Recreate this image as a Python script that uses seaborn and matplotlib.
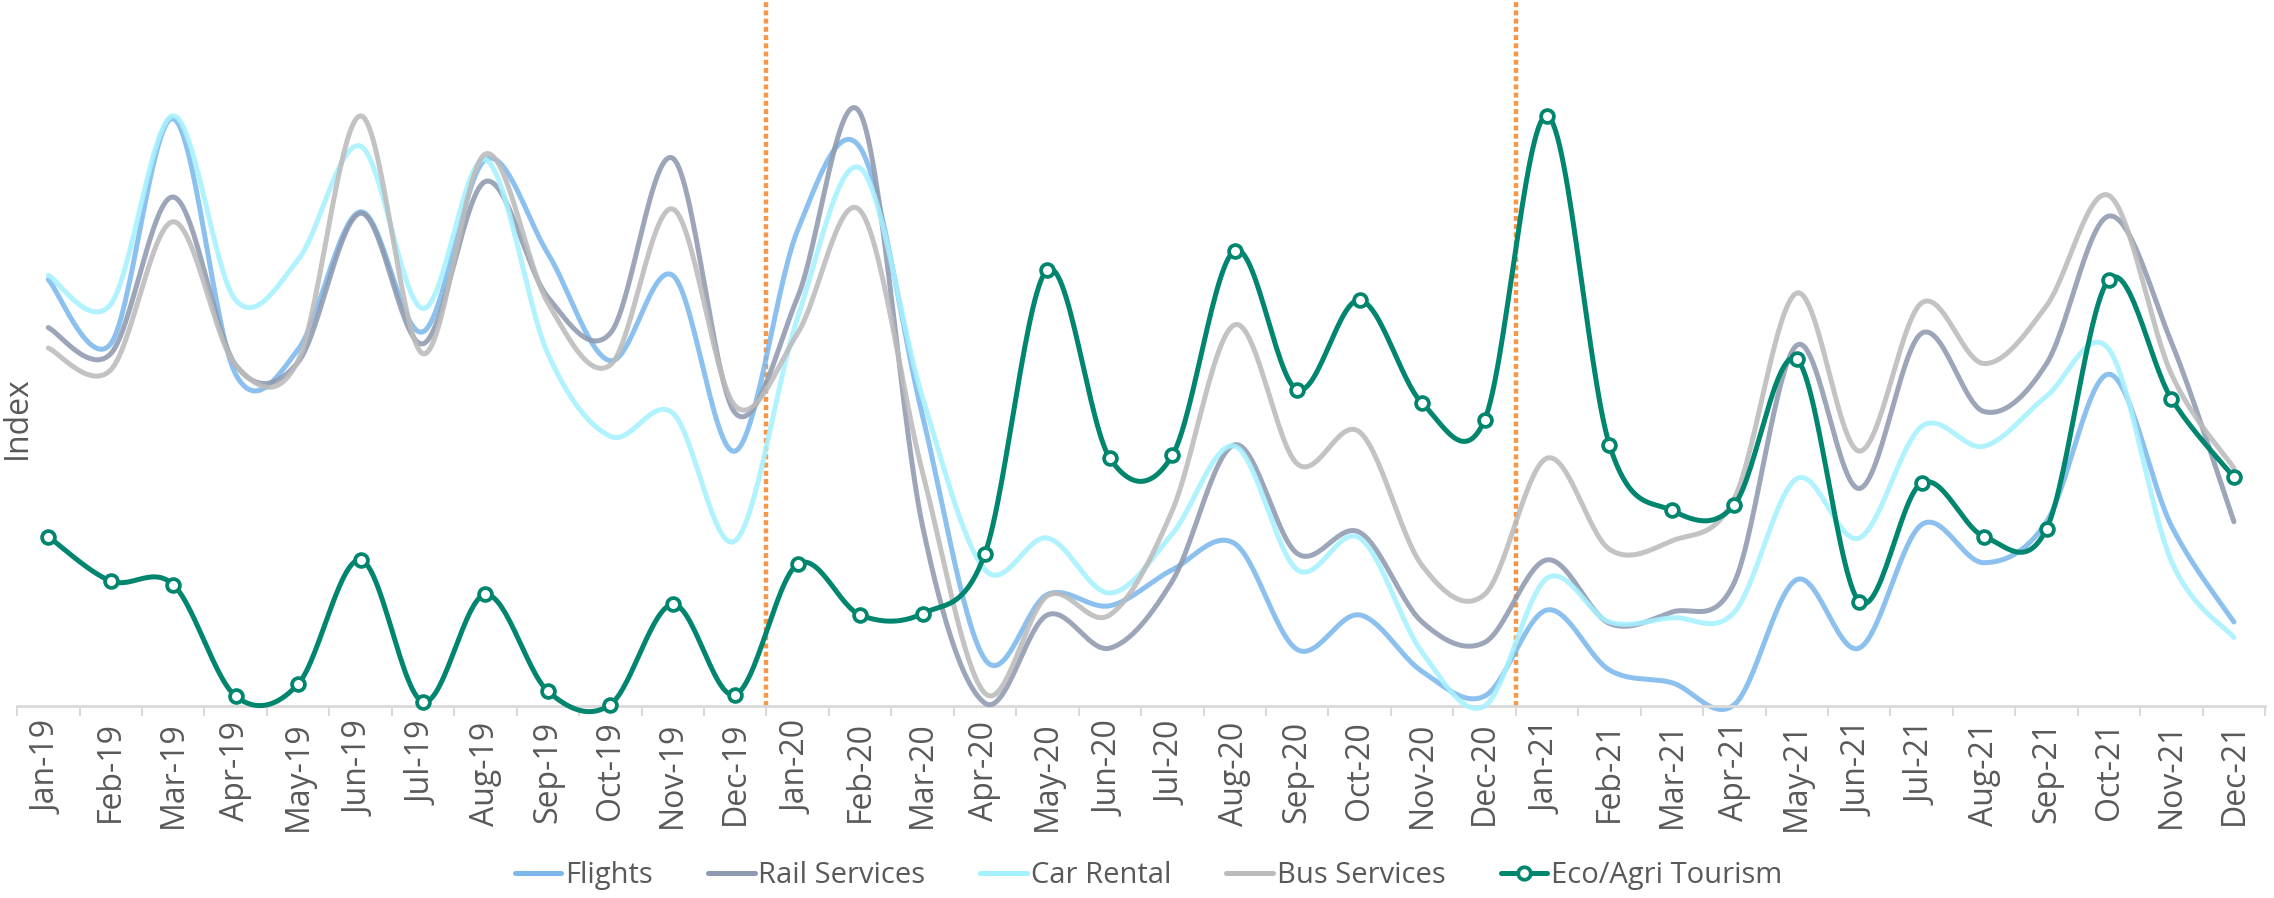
import numpy as np
import matplotlib
matplotlib.use("Agg")
import matplotlib.pyplot as plt
import seaborn as sns
from matplotlib.lines import Line2D

# ---- data -----------------------------------------------------------------
months = ["Jan-19", "Feb-19", "Mar-19", "Apr-19", "May-19", "Jun-19",
          "Jul-19", "Aug-19", "Sep-19", "Oct-19", "Nov-19", "Dec-19",
          "Jan-20", "Feb-20", "Mar-20", "Apr-20", "May-20", "Jun-20",
          "Jul-20", "Aug-20", "Sep-20", "Oct-20", "Nov-20", "Dec-20",
          "Jan-21", "Feb-21", "Mar-21", "Apr-21", "May-21", "Jun-21",
          "Jul-21", "Aug-21", "Sep-21", "Oct-21", "Nov-21", "Dec-21"]

flights = [60.4, 51.3, 83.2, 47.0, 50.5, 70.0, 53.0, 77.4, 64.1, 48.9, 61.0, 36.1,
           67.4, 79.1, 41.1, 6.6, 15.8, 14.2, 19.3, 23.0, 8.0, 12.9, 4.9, 1.4,
           13.6, 5.1, 3.3, 0.2, 17.9, 8.2, 25.7, 20.3, 26.1, 47.0, 25.5, 11.9]

rail = [53.6, 49.9, 72.1, 48.3, 48.7, 69.8, 51.3, 74.3, 57.9, 52.8, 77.6, 41.5,
        57.9, 84.0, 25.5, 0.4, 12.9, 8.2, 17.7, 37.0, 21.6, 24.6, 11.9, 9.0,
        20.7, 11.7, 13.3, 17.5, 51.1, 30.8, 52.8, 41.7, 48.5, 69.4, 51.5, 26.1]

car_rental = [61.0, 56.9, 83.6, 57.5, 63.2, 79.3, 56.3, 77.4, 49.9, 38.2, 41.5, 23.4,
              55.0, 76.2, 43.7, 19.3, 23.8, 16.0, 24.4, 36.8, 19.3, 23.8, 7.6, 0.0,
              18.1, 11.9, 12.5, 13.3, 32.2, 23.8, 39.6, 36.8, 43.9, 50.5, 20.5, 9.7]

bus = [50.7, 47.6, 68.6, 48.3, 48.9, 83.6, 49.9, 78.2, 57.1, 48.3, 70.4, 42.5,
       52.8, 70.2, 33.1, 1.8, 15.6, 12.9, 27.7, 54.0, 34.3, 38.8, 19.9, 15.8,
       35.1, 22.2, 23.4, 29.4, 58.5, 36.1, 57.1, 48.5, 56.7, 72.3, 47.0, 33.7]

eco_agri = [24.0, 17.7, 17.2, 1.4, 3.1, 20.7, 0.6, 15.8, 2.1, 0.2, 14.4, 1.6,
            20.1, 12.9, 13.1, 21.6, 61.8, 35.1, 35.5, 64.5, 44.8, 57.5, 42.9, 40.5,
            83.6, 37.0, 27.7, 28.5, 49.1, 14.8, 31.6, 24.0, 25.1, 60.4, 43.5, 32.4]

series_names = ["Flights", "Rail Services", "Car Rental", "Bus Services",
                "Eco/Agri Tourism"]
year_ends = ["Dec-19", "Dec-20"]

# ---- styling --------------------------------------------------------------
colors = ["#7CB8EC", "#8E9AAF", "#A6F1FF", "#BBBBBB", "#00866E"]
orange = "#F79646"
text_gray = "#595959"
axis_gray = "#D9D9D9"

sns.set_theme(style="white")
plt.rcParams["font.family"] = ["Open Sans", "DejaVu Sans"]


def smooth(values, steps=30):
    """Catmull-Rom (Bezier) curve through the monthly points."""
    y = np.asarray(values, dtype=float)
    x = np.arange(len(y), dtype=float)
    px = np.concatenate([[x[0]], x, [x[-1]]])
    py = np.concatenate([[y[0]], y, [y[-1]]])
    t = np.linspace(0.0, 1.0, steps, endpoint=False)
    xs, ys = [], []
    for i in range(len(y) - 1):
        p0 = np.array([px[i], py[i]])
        p1 = np.array([px[i + 1], py[i + 1]])
        p2 = np.array([px[i + 2], py[i + 2]])
        p3 = np.array([px[i + 3], py[i + 3]])
        c1 = p1 + (p2 - p0) / 6.0
        c2 = p2 - (p3 - p1) / 6.0
        b = ((1 - t) ** 3)[:, None] * p1 + (3 * (1 - t) ** 2 * t)[:, None] * c1 \
            + (3 * (1 - t) * t ** 2)[:, None] * c2 + (t ** 3)[:, None] * p2
        xs.append(b[:, 0])
        ys.append(b[:, 1])
    xs.append([x[-1]])
    ys.append([y[-1]])
    return np.concatenate(xs), np.concatenate(ys)


fig = plt.figure(figsize=(22.74, 8.98), dpi=100)
ax = fig.add_axes([0.0075, 0.2138, 0.9886, 0.7862])

all_series = [flights, rail, car_rental, bus, eco_agri]
for i, (name, vals, col) in enumerate(zip(series_names, all_series, colors)):
    sx, sy = smooth(vals)
    sns.lineplot(x=sx, y=sy, ax=ax, color=col, linewidth=3.6,
                 alpha=1.0 if i == 4 else 0.88, sort=False, estimator=None,
                 legend=False, zorder=2 + i)

for line in ax.lines:
    line.set_clip_on(False)
    line.set_solid_capstyle("round")

pos = np.arange(len(months))
sns.scatterplot(x=pos, y=eco_agri, ax=ax, marker="o", s=85,
                facecolor="white", edgecolor=colors[4], linewidth=2.7,
                zorder=10, clip_on=False, legend=False)

# year separators
for m in year_ends:
    ax.axvline(months.index(m) + 0.5, color=orange, linewidth=3.2,
               linestyle=(0, (1.1, 0.75)), zorder=1)

ax.set_xlim(-0.5, len(months) - 0.5)
ax.set_ylim(0, 100)

# axes decoration
for side in ["left", "right", "top"]:
    ax.spines[side].set_visible(False)
ax.spines["bottom"].set_color(axis_gray)
ax.spines["bottom"].set_linewidth(2)
ax.set_yticks([])
ax.set_xticks(pos)
ax.set_xticklabels(months, rotation=90, fontsize=23, color=text_gray)
ax.set_xticks(np.arange(-0.5, len(months)), minor=True)
ax.tick_params(axis="x", which="major", length=0, pad=11)
ax.tick_params(axis="x", which="minor", length=7.5, width=1.5,
               color=axis_gray, direction="out")
ax.xaxis.set_ticks_position("bottom")
ax.set_ylabel("")
ax.set_xlabel("")

fig.text(0.0075, 0.535, "Index", rotation=90, ha="center", va="center",
         fontsize=23, color=text_gray)

handles = []
for name, col in zip(series_names, colors):
    if name == "Eco/Agri Tourism":
        handles.append(Line2D([0], [0], color=col, linewidth=3.6, marker="o",
                              markersize=9, markerfacecolor="white",
                              markeredgecolor=col, markeredgewidth=2.7))
    else:
        handles.append(Line2D([0], [0], color=col, linewidth=3.6))
leg = fig.legend(handles, series_names, loc="center", ncol=5,
                 bbox_to_anchor=(0.505, 0.0245), frameon=False, fontsize=21,
                 handlelength=1.6, handletextpad=0.12, columnspacing=1.9)
for txt in leg.get_texts():
    txt.set_color(text_gray)

fig.savefig("out.png", dpi=100, facecolor="white")
